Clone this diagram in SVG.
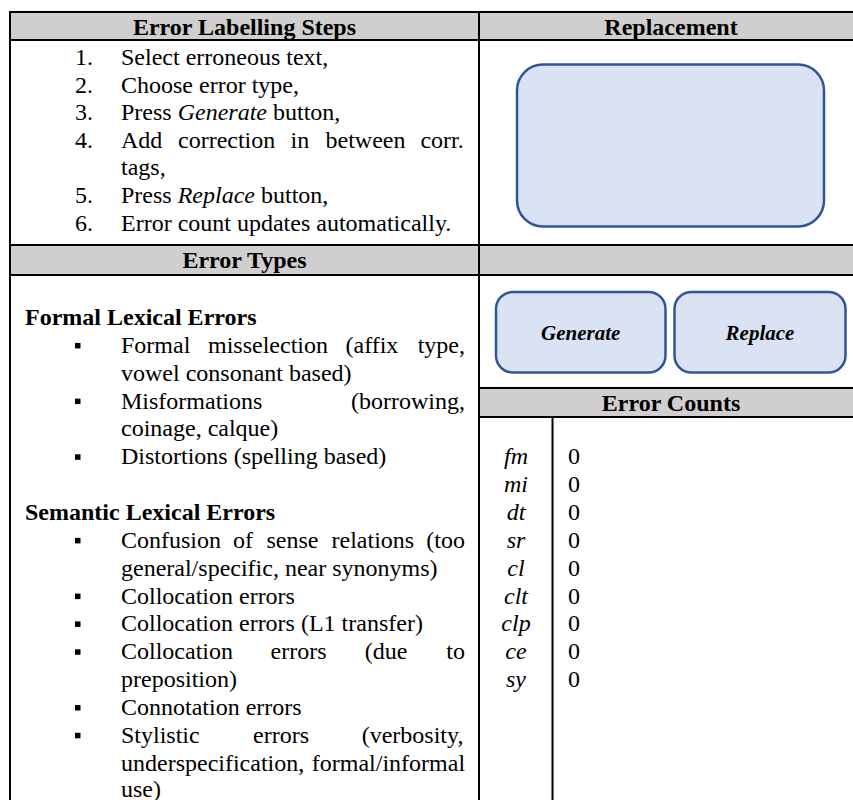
<svg xmlns="http://www.w3.org/2000/svg" width="853" height="800" viewBox="0 0 853 800" font-family="Liberation Serif, serif" font-size="24">
  <defs>
    <rect id="bullet" width="5.5" height="5.5" fill="#000"/>
  </defs>
  <rect width="853" height="800" fill="#fff"/>

  <!-- shaded header bands -->
  <g id="header-shading" fill="#D0CECE">
    <rect x="10" y="12" width="843" height="28"/>
    <rect x="10" y="245" width="843" height="30"/>
    <rect x="479" y="388" width="374" height="29"/>
  </g>

  <!-- table grid -->
  <g id="grid" stroke="#000" stroke-width="2" fill="none">
    <line x1="10" y1="12" x2="853" y2="12"/>
    <line x1="10" y1="40" x2="853" y2="40"/>
    <line x1="10" y1="245" x2="853" y2="245"/>
    <line x1="10" y1="275" x2="853" y2="275"/>
    <line x1="479" y1="388" x2="853" y2="388"/>
    <line x1="479" y1="417" x2="853" y2="417"/>
    <line x1="10" y1="11" x2="10" y2="800"/>
    <line x1="479" y1="11" x2="479" y2="800"/>
    <line x1="552.5" y1="417" x2="552.5" y2="800"/>
  </g>

  <!-- column headings -->
  <g id="headings" font-family="Liberation Serif, serif" font-weight="bold" text-anchor="middle">
    <text x="244.5" y="35">Error Labelling Steps</text>
    <text x="671" y="35">Replacement</text>
    <text x="244.5" y="268">Error Types</text>
    <text x="671" y="411">Error Counts</text>
  </g>

  <!-- numbered labelling steps -->
  <g id="steps" font-family="Liberation Serif, serif">
    <text x="75" y="65">1.</text>
    <text x="121" y="65">Select erroneous text,</text>
    <text x="75" y="92.6">2.</text>
    <text x="121" y="92.6">Choose error type,</text>
    <text x="75" y="120.2">3.</text>
    <text x="121" y="120.2">Press <tspan font-style="italic">Generate</tspan> button,</text>
    <text x="75" y="147.8">4.</text>
    <text y="147.8"><tspan x="121">Add</tspan><tspan x="178">correction</tspan><tspan x="290.5">in</tspan><tspan x="325.5">between</tspan><tspan x="420.4">corr.</tspan></text>
    <text x="121" y="175.4">tags,</text>
    <text x="75" y="203">5.</text>
    <text x="121" y="203">Press <tspan font-style="italic">Replace</tspan> button,</text>
    <text x="75" y="230.6">6.</text>
    <text x="121" y="230.6">Error count updates automatically.</text>
  </g>

  <!-- error type catalogue -->
  <g id="error-types" font-family="Liberation Serif, serif">
    <g id="bullets">
      <use href="#bullet" x="75" y="342.9"/>
      <use href="#bullet" x="75" y="398.6"/>
      <use href="#bullet" x="75" y="454.3"/>
      <use href="#bullet" x="75" y="537.9"/>
      <use href="#bullet" x="75" y="593.6"/>
      <use href="#bullet" x="75" y="621.4"/>
      <use href="#bullet" x="75" y="649.3"/>
      <use href="#bullet" x="75" y="705"/>
      <use href="#bullet" x="75" y="732.8"/>
    </g>
    <text font-weight="bold" x="25" y="325">Formal Lexical Errors</text>
    <text y="352.85"><tspan x="121">Formal</tspan><tspan x="208">misselection</tspan><tspan x="345.5">(affix</tspan><tspan x="417.7">type,</tspan></text>
    <text x="121" y="380.7">vowel consonant based)</text>
    <text y="408.55"><tspan x="121">Misformations</tspan><tspan x="351">(borrowing,</tspan></text>
    <text x="121" y="436.4">coinage, calque)</text>
    <text x="121" y="464.25">Distortions (spelling based)</text>

    <text font-weight="bold" x="25" y="520">Semantic Lexical Errors</text>
    <text y="547.85"><tspan x="121">Confusion</tspan><tspan x="233">of</tspan><tspan x="266.5">sense</tspan><tspan x="331.5">relations</tspan><tspan x="426.3">(too</tspan></text>
    <text x="121" y="575.7">general/specific, near synonyms)</text>
    <text x="121" y="603.55">Collocation errors</text>
    <text x="121" y="631.4">Collocation errors (L1 transfer)</text>
    <text y="659.25"><tspan x="121">Collocation</tspan><tspan x="270.5">errors</tspan><tspan x="364.8">(due</tspan><tspan x="446.3">to</tspan></text>
    <text x="121" y="687.1">preposition)</text>
    <text x="121" y="714.95">Connotation errors</text>
    <text y="742.8"><tspan x="121">Stylistic</tspan><tspan x="253">errors</tspan><tspan x="361.7">(verbosity,</tspan></text>
    <text y="770.65"><tspan x="121">underspecification,</tspan><tspan x="311.8">formal/informal</tspan></text>
    <text x="121" y="796.5">use)</text>
  </g>

  <!-- replacement text area -->
  <g id="replacement-box" fill="#DAE3F3" stroke="#2F5597" stroke-width="2.5">
    <rect x="517" y="64.5" width="307" height="162" rx="26"/>
  </g>

  <!-- action buttons -->
  <g id="generate-button">
    <rect x="496" y="292" width="169.5" height="80.5" rx="17" fill="#DAE3F3" stroke="#2F5597" stroke-width="2.5"/>
    <text x="580.7" y="340" font-family="Liberation Serif, serif" font-size="21" font-weight="bold" font-style="italic" text-anchor="middle">Generate</text>
  </g>
  <g id="replace-button">
    <rect x="674.5" y="292" width="171" height="80.5" rx="17" fill="#DAE3F3" stroke="#2F5597" stroke-width="2.5"/>
    <text x="760" y="340" font-family="Liberation Serif, serif" font-size="21" font-weight="bold" font-style="italic" text-anchor="middle">Replace</text>
  </g>

  <!-- per-type counters -->
  <g id="error-counts" font-family="Liberation Serif, serif">
    <g font-style="italic" text-anchor="middle">
      <text x="516" y="464.25">fm</text>
      <text x="516" y="492.1">mi</text>
      <text x="516" y="519.95">dt</text>
      <text x="516" y="547.8">sr</text>
      <text x="516" y="575.65">cl</text>
      <text x="516" y="603.5">clt</text>
      <text x="516" y="631.35">clp</text>
      <text x="516" y="659.2">ce</text>
      <text x="516" y="687.05">sy</text>
    </g>
    <g>
      <text x="568" y="464.25">0</text>
      <text x="568" y="492.1">0</text>
      <text x="568" y="519.95">0</text>
      <text x="568" y="547.8">0</text>
      <text x="568" y="575.65">0</text>
      <text x="568" y="603.5">0</text>
      <text x="568" y="631.35">0</text>
      <text x="568" y="659.2">0</text>
      <text x="568" y="687.05">0</text>
    </g>
  </g>
</svg>
